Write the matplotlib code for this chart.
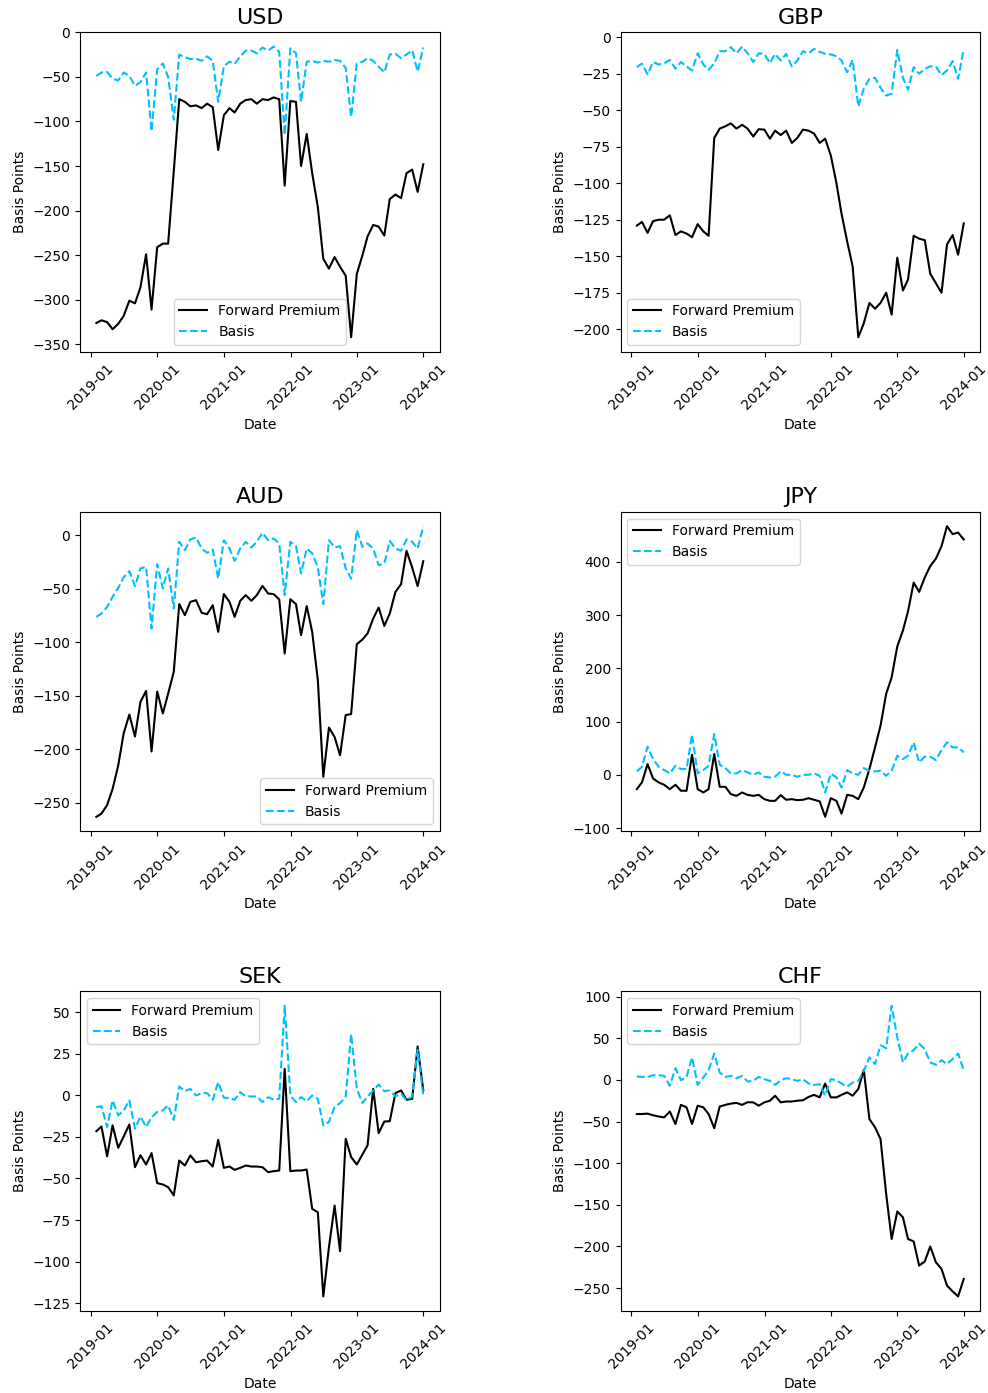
import numpy as np
import pandas as pd
import matplotlib

matplotlib.use("Agg")
import matplotlib.pyplot as plt
import matplotlib.dates as mdates

# month-end observations, Jan 2019 .. Dec 2023
dates = pd.date_range("2019-01-31", periods=60, freq="ME")

usd_fp = [-326, -323, -325, -333, -327, -318, -301, -304, -286, -249,
          -311, -241, -237, -237, -156, -75, -78, -83, -82, -85,
          -80, -84, -132, -93, -85, -90, -80, -76, -75, -80,
          -75, -76, -73, -75, -172, -77, -78, -150, -114, -158,
          -196, -254, -265, -252, -263, -273, -342, -271, -250, -229,
          -216, -218, -228, -187, -182, -186, -158, -154, -179, -148]
usd_basis = [-49, -45, -44.5, -52, -54, -45, -49, -60, -56, -45,
             -111, -41.5, -35, -50, -98, -25, -28, -30, -29.5, -32,
             -27, -32, -78, -38, -33, -35.5, -27, -20.5, -20.5, -23.5,
             -17, -20.5, -16, -21.7, -115, -18, -23.5, -78, -33, -32,
             -34, -32, -33, -31, -32, -40, -95, -35, -33, -29,
             -32, -38.5, -45, -25, -24, -29, -25, -20, -44, -17]

gbp_fp = [-129, -126.5, -134, -126, -125, -125, -122, -135.5, -133, -134.5,
          -137, -128, -133, -136, -69, -62.6, -61, -59, -62.6, -60,
          -62.6, -68, -63, -63.3, -69.5, -64, -67, -64, -72.4, -69,
          -63.3, -64, -66, -72.4, -69.5, -81, -100, -121, -140, -157,
          -205.5, -196, -182, -186, -182, -175, -190, -151, -173.5, -166,
          -136, -138, -139, -162, -168.5, -175, -142, -135.5, -149, -127.5]
gbp_basis = [-20.5, -18, -25.5, -17, -18.7, -18, -15.5, -21.6, -17, -20,
             -22.8, -11, -18.7, -22.3, -18, -9.6, -9.6, -6.8, -11, -6.4,
             -11, -17, -11, -11.4, -17.8, -11.4, -16, -11.4, -20, -16,
             -9.6, -11, -8, -10, -11.4, -11.8, -13, -16, -24, -15.5,
             -47.4, -35.3, -28.5, -27.8, -34.6, -40, -38.7, -8.7, -27.8, -36,
             -20.5, -25, -21.6, -20, -20, -26, -22.8, -16.4, -28.5, -8]

aud_fp = [-263, -260, -252, -237, -215, -185, -167.5, -188, -155.7, -145.4,
          -202, -146, -166.5, -148, -127.6, -64.4, -74.7, -62.3, -60.7, -72.5,
          -73.8, -65.4, -90.3, -55, -62.3, -76.3, -61.3, -56, -61.3, -56,
          -47.3, -54.5, -55, -60, -110.5, -59.8, -64.4, -93.4, -66.3, -90.3,
          -135.4, -225.7, -179.6, -188.4, -205.5, -168, -167, -101.8, -97.4, -91.8,
          -77.8, -67.6, -84.7, -73.2, -53, -45.8, -14.6, -30.2, -47.6, -24.3]
aud_basis = [-76.3, -73.2, -67, -57.6, -49.2, -39.5, -33.6, -47.6, -31, -29.6,
             -87.2, -27, -49.8, -31, -68.5, -6.2, -14, -4, -2.2, -12.5,
             -16.5, -13.4, -40.5, -4.7, -12.5, -24, -12.5, -6.2, -11.5, -6.2,
             2.2, -4.7, -3.1, -7.8, -56, -6.2, -10.3, -35.8, -12.5, -17,
             -30.2, -64.4, -4.7, -11.5, -10.3, -31, -40.5, 4.7, -11, -7.8,
             -12.5, -28, -26.5, -5.3, -12.5, -14.6, -4, -6.2, -12.5, 8.4]

jpy_fp = [-27, -14.4, 20, -7, -14.4, -18.8, -27, -18.8, -30, -30,
          37.7, -27, -33.3, -27, 39, -22.6, -22.6, -36.4, -39.6, -33.3,
          -37.7, -39.6, -37.7, -45.8, -49, -49, -38.3, -47, -45.8, -47.7,
          -47, -44, -47, -50, -79, -44, -49, -73, -37.7, -39.6,
          -45.8, -23.9, 10.7, 51.5, 92.3, 152, 183, 241, 271, 307,
          361, 343.5, 370.5, 392, 406, 429.5, 467, 452, 455, 442]
jpy_basis = [6.3, 15, 52.7, 29.5, 15, 8.8, 2.5, 17, 10.7, 10.7,
             75.4, 2.5, 8.8, 17, 76.6, 18.8, 12.6, 2.5, 2.5, 8.8,
             4.4, 0, 4.4, -3.8, -5, -3.8, 6.3, 0, 0, -3.8,
             0, 0, 2.5, -1.9, -33.3, 2.5, -5, -23.9, 8.8, 2.5,
             0, 12.6, 7.5, 6.3, 7.5, -1.9, 7.5, 35.8, 29.5, 35.8,
             61, 23.2, 34, 34, 27.6, 46.5, 61, 51.5, 51.5, 42]

sek_fp = [-21.5, -18.7, -36.7, -18, -31.5, -24.7, -17.5, -43.2, -36, -41.6,
          -34.7, -52.8, -53.6, -55.2, -60.2, -39.2, -42.2, -36.1, -40.2, -39.6,
          -39.2, -42.8, -26.7, -43.6, -42.8, -44.8, -43.6, -42.2, -42.8, -42.8,
          -43.2, -46.2, -45.6, -45.2, 16, -45.6, -45.2, -45.2, -44.6, -68.3,
          -70.3, -121, -91.4, -66.3, -93.8, -26.1, -37.1, -41.6, -35.5, -30.1,
          4, -22.7, -15.7, -15.5, 1.4, 3, -2.6, -2, 29.5, 3]
sek_basis = [-7, -6.6, -19, -3, -12, -9, -3, -20, -12.7, -19,
             -13, -10, -9, -6, -14.7, 5.4, 2.6, 4, 0, 1.4,
             1.4, -2.6, 8, -1.4, -1.5, -2.6, 2, -0.6, -0.6, -0.6,
             -4, -1, -2.6, -2, 54, 0, -4, -1, -3.4, 0,
             -2, -18, -16, -7, -4.6, -0.6, 37, 4, -4.6, -0.6,
             3, 6.6, 2.6, 3, -0.6, 1, -3, -0.6, 27.5, 0]

chf_fp = [-41, -41, -40.5, -42.5, -44, -45, -38, -53, -30, -33,
          -53, -31, -33, -41, -58, -32, -30, -28.5, -27.6, -30,
          -26.8, -27, -31, -27, -25, -19, -27, -26, -26, -25,
          -24.5, -20.5, -18, -21, -4.4, -21, -21, -18, -15, -19,
          -11, 12, -47, -57, -71, -137, -191, -158, -165, -191,
          -194, -223, -218, -200, -219, -227, -247, -254, -260, -239]
chf_basis = [4, 3.6, 3.6, 5.6, 5.6, 4.8, -7, 14, -0.4, 3.6,
             27, -6, 2.8, 11.6, 31.6, 8.8, 3.6, 4.8, 2, 4.8,
             -2, -1.2, 3.6, 0.8, -1.2, -6, -0.4, 2, 0.8, -1.2,
             0.8, -4.4, -6, -5.2, -19, 0.8, -0.4, -4.4, -8, -3.2,
             -1.2, 10.8, 27, 19, 41.6, 38, 89, 51, 21, 31.6,
             35.6, 43.6, 36.8, 21, 18, 23.6, 19, 25, 31.6, 11.6]

currencies = ["USD", "GBP", "AUD", "JPY", "SEK", "CHF"]
fwd = [usd_fp, gbp_fp, aud_fp, jpy_fp, sek_fp, chf_fp]
basis = [usd_basis, gbp_basis, aud_basis, jpy_basis, sek_basis, chf_basis]
legend_loc = ["lower center", "lower left", "lower right",
              "upper left", "upper left", "upper left"]

fig, axes = plt.subplots(3, 2, figsize=(9.88, 13.93), dpi=100)
fig.subplots_adjust(left=0.081, right=0.992, top=0.977, bottom=0.0589,
                    wspace=0.503, hspace=0.5)

for ax, cur, fp, bs, loc in zip(axes.flat, currencies, fwd, basis, legend_loc):
    ax.plot(dates, fp, color="black", lw=1.5, label="Forward Premium")
    ax.plot(dates, bs, color="deepskyblue", lw=1.5, ls="--", label="Basis")
    ax.set_title(cur, fontsize=16)
    ax.set_xlabel("Date")
    ax.set_ylabel("Basis Points")
    ax.xaxis.set_major_locator(mdates.YearLocator())
    ax.xaxis.set_major_formatter(mdates.DateFormatter("%Y-%m"))
    ax.tick_params(axis="x", labelrotation=45)
    ax.legend(loc=loc)

fig.savefig("out.png")
